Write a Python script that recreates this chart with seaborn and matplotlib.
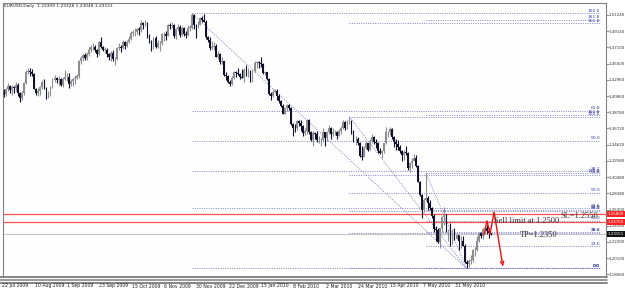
import matplotlib
matplotlib.use("Agg")
import matplotlib.pyplot as plt
import seaborn as sns
import pandas as pd
import numpy as np
from matplotlib.lines import Line2D

# ---------------- data ----------------
opens = [
    1.4130, 1.4110, 1.4170, 1.4210, 1.4160, 1.4200, 1.4190, 1.4230, 1.4120, 1.4060,
    1.4120, 1.4250, 1.4400, 1.4410, 1.4400, 1.4370, 1.4180, 1.4120, 1.4150, 1.4200,
    1.4260, 1.4190, 1.4070, 1.4130, 1.4200, 1.4290, 1.4320, 1.4290, 1.4300, 1.4230,
    1.4310, 1.4330, 1.4330, 1.4240, 1.4280, 1.4300, 1.4320, 1.4340, 1.4530, 1.4570,
    1.4610, 1.4570, 1.4630, 1.4680, 1.4710, 1.4720, 1.4680, 1.4620, 1.4780, 1.4720,
    1.4680, 1.4680, 1.4620, 1.4580, 1.4640, 1.4560, 1.4560, 1.4700, 1.4720, 1.4700,
    1.4780, 1.4730, 1.4780, 1.4820, 1.4890, 1.4900, 1.4900, 1.4940, 1.4930, 1.5020,
    1.5000, 1.5010, 1.4850, 1.4780, 1.4710, 1.4830, 1.4720, 1.4760, 1.4760, 1.4880,
    1.4880, 1.4860, 1.5000, 1.4980, 1.5000, 1.4850, 1.4940, 1.4970, 1.4870, 1.4960,
    1.4880, 1.4870, 1.4960, 1.4960, 1.5120, 1.5000, 1.4990, 1.5000, 1.5080, 1.5060,
    1.5040, 1.4840, 1.4810, 1.4700, 1.4720, 1.4730, 1.4590, 1.4620, 1.4520, 1.4530,
    1.4350, 1.4340, 1.4260, 1.4240, 1.4320, 1.4390, 1.4380, 1.4370, 1.4330, 1.4320,
    1.4420, 1.4370, 1.4410, 1.4310, 1.4410, 1.4510, 1.4520, 1.4510, 1.4500, 1.4380,
    1.4390, 1.4310, 1.4110, 1.4090, 1.4140, 1.4150, 1.4080, 1.4020, 1.3960, 1.3860,
    1.3930, 1.3970, 1.3930, 1.3730, 1.3680, 1.3670, 1.3760, 1.3740, 1.3700, 1.3610,
    1.3640, 1.3780, 1.3620, 1.3520, 1.3610, 1.3600, 1.3520, 1.3520, 1.3520, 1.3620,
    1.3550, 1.3620, 1.3680, 1.3600, 1.3620, 1.3630, 1.3580, 1.3640, 1.3680, 1.3750,
    1.3670, 1.3760, 1.3770, 1.3610, 1.3530, 1.3530, 1.3490, 1.3320, 1.3310, 1.3420,
    1.3480, 1.3400, 1.3510, 1.3560, 1.3500, 1.3490, 1.3380, 1.3360, 1.3380, 1.3480,
    1.3620, 1.3630, 1.3660, 1.3560, 1.3500, 1.3470, 1.3430, 1.3380, 1.3330, 1.3370,
    1.3350, 1.3160, 1.3230, 1.3260, 1.3290, 1.3190, 1.2990, 1.2820, 1.2620, 1.2750,
    1.2780, 1.2710, 1.2650, 1.2550, 1.2380, 1.2370, 1.2210, 1.2390, 1.2530, 1.2570,
    1.2360, 1.2370, 1.2200, 1.2370, 1.2260, 1.2300, 1.2230, 1.2230, 1.2170, 1.1960,
    1.1930, 1.1970, 1.1990, 1.2110, 1.2110, 1.2230, 1.2330, 1.2290, 1.2380, 1.2390,
    1.2360, 1.23309,
]
highs = [
    1.4170, 1.4190, 1.4250, 1.4230, 1.4230, 1.4220, 1.4260, 1.4250, 1.4140, 1.4150,
    1.4260, 1.4420, 1.4440, 1.4450, 1.4430, 1.4380, 1.4190, 1.4190, 1.4220, 1.4290,
    1.4300, 1.4200, 1.4150, 1.4220, 1.4320, 1.4350, 1.4330, 1.4340, 1.4320, 1.4330,
    1.4420, 1.4380, 1.4380, 1.4310, 1.4320, 1.4350, 1.4370, 1.4550, 1.4600, 1.4630,
    1.4640, 1.4650, 1.4710, 1.4740, 1.4760, 1.4740, 1.4690, 1.4790, 1.4840, 1.4730,
    1.4720, 1.4700, 1.4640, 1.4660, 1.4680, 1.4590, 1.4720, 1.4770, 1.4740, 1.4800,
    1.4790, 1.4800, 1.4850, 1.4920, 1.4930, 1.4960, 1.4960, 1.4970, 1.5060, 1.5030,
    1.5060, 1.5040, 1.4880, 1.4810, 1.4840, 1.4850, 1.4800, 1.4790, 1.4890, 1.4910,
    1.4920, 1.5010, 1.5020, 1.5030, 1.5010, 1.4960, 1.5010, 1.4990, 1.4980, 1.4970,
    1.4920, 1.5000, 1.4990, 1.5145, 1.5140, 1.5010, 1.5050, 1.5100, 1.5110, 1.5140,
    1.5060, 1.4850, 1.4840, 1.4790, 1.4780, 1.4750, 1.4660, 1.4640, 1.4580, 1.4540,
    1.4390, 1.4360, 1.4290, 1.4340, 1.4410, 1.4410, 1.4450, 1.4380, 1.4430, 1.4450,
    1.4480, 1.4440, 1.4420, 1.4420, 1.4530, 1.4540, 1.4540, 1.4580, 1.4510, 1.4410,
    1.4400, 1.4320, 1.4140, 1.4170, 1.4180, 1.4170, 1.4110, 1.4040, 1.3990, 1.3940,
    1.3990, 1.3990, 1.3940, 1.3740, 1.3730, 1.3780, 1.3780, 1.3780, 1.3720, 1.3670,
    1.3790, 1.3790, 1.3640, 1.3640, 1.3620, 1.3640, 1.3570, 1.3550, 1.3670, 1.3630,
    1.3640, 1.3710, 1.3690, 1.3670, 1.3650, 1.3640, 1.3660, 1.3700, 1.3780, 1.3760,
    1.3780, 1.3820, 1.3780, 1.3650, 1.3570, 1.3560, 1.3500, 1.3440, 1.3440, 1.3510,
    1.3490, 1.3540, 1.3600, 1.3570, 1.3540, 1.3500, 1.3420, 1.3400, 1.3490, 1.3690,
    1.3640, 1.3690, 1.3680, 1.3580, 1.3530, 1.3520, 1.3460, 1.3400, 1.3390, 1.3440,
    1.3370, 1.3240, 1.3290, 1.3340, 1.3330, 1.3200, 1.3000, 1.2830, 1.2780, 1.3094,
    1.2800, 1.2760, 1.2670, 1.2570, 1.2420, 1.2400, 1.2400, 1.2550, 1.2670, 1.2580,
    1.2380, 1.2460, 1.2380, 1.2390, 1.2330, 1.2310, 1.2290, 1.2290, 1.2190, 1.1990,
    1.2000, 1.2050, 1.2130, 1.2150, 1.2290, 1.2340, 1.2340, 1.2390, 1.2410, 1.2440,
    1.2390, 1.23328,
]
lows = [
    1.4070, 1.4090, 1.4150, 1.4120, 1.4100, 1.4120, 1.4150, 1.4080, 1.4010, 1.4030,
    1.4100, 1.4240, 1.4370, 1.4340, 1.4340, 1.4170, 1.4100, 1.4080, 1.4100, 1.4180,
    1.4170, 1.4050, 1.4060, 1.4080, 1.4190, 1.4260, 1.4250, 1.4220, 1.4220, 1.4200,
    1.4290, 1.4280, 1.4190, 1.4210, 1.4220, 1.4240, 1.4300, 1.4320, 1.4500, 1.4540,
    1.4550, 1.4550, 1.4600, 1.4650, 1.4680, 1.4650, 1.4590, 1.4610, 1.4700, 1.4660,
    1.4640, 1.4590, 1.4550, 1.4540, 1.4530, 1.4480, 1.4550, 1.4680, 1.4650, 1.4690,
    1.4690, 1.4710, 1.4770, 1.4810, 1.4860, 1.4850, 1.4880, 1.4870, 1.4910, 1.4950,
    1.4980, 1.4830, 1.4760, 1.4660, 1.4690, 1.4700, 1.4700, 1.4660, 1.4740, 1.4790,
    1.4810, 1.4850, 1.4940, 1.4960, 1.4830, 1.4820, 1.4920, 1.4840, 1.4860, 1.4850,
    1.4830, 1.4860, 1.4920, 1.4950, 1.4950, 1.4830, 1.4960, 1.4990, 1.5040, 1.5030,
    1.4820, 1.4780, 1.4680, 1.4690, 1.4680, 1.4580, 1.4560, 1.4500, 1.4490, 1.4340,
    1.4290, 1.4250, 1.4220, 1.4230, 1.4310, 1.4330, 1.4350, 1.4300, 1.4320, 1.4260,
    1.4340, 1.4330, 1.4260, 1.4260, 1.4400, 1.4450, 1.4440, 1.4460, 1.4370, 1.4360,
    1.4290, 1.4100, 1.4030, 1.4070, 1.4120, 1.4030, 1.4000, 1.3940, 1.3850, 1.3850,
    1.3900, 1.3910, 1.3710, 1.3580, 1.3620, 1.3650, 1.3700, 1.3640, 1.3580, 1.3590,
    1.3600, 1.3600, 1.3510, 1.3440, 1.3540, 1.3500, 1.3480, 1.3440, 1.3500, 1.3440,
    1.3510, 1.3600, 1.3540, 1.3570, 1.3590, 1.3540, 1.3570, 1.3600, 1.3660, 1.3650,
    1.3660, 1.3730, 1.3600, 1.3500, 1.3460, 1.3460, 1.3310, 1.3270, 1.3300, 1.3410,
    1.3380, 1.3390, 1.3490, 1.3470, 1.3420, 1.3360, 1.3340, 1.3290, 1.3360, 1.3470,
    1.3560, 1.3590, 1.3530, 1.3430, 1.3400, 1.3400, 1.3360, 1.3250, 1.3270, 1.3330,
    1.3140, 1.3110, 1.3170, 1.3250, 1.3180, 1.2980, 1.2800, 1.2520, 1.2600, 1.2740,
    1.2620, 1.2620, 1.2520, 1.2350, 1.2230, 1.2200, 1.2140, 1.2350, 1.2430, 1.2340,
    1.2230, 1.2160, 1.2190, 1.2240, 1.2250, 1.2110, 1.2140, 1.2160, 1.1950, 1.1877,
    1.1890, 1.1940, 1.1960, 1.2040, 1.2100, 1.2210, 1.2270, 1.2250, 1.2330, 1.2320,
    1.2270, 1.23048,
]
closes = [
    1.4110, 1.4170, 1.4210, 1.4160, 1.4200, 1.4190, 1.4230, 1.4120, 1.4060, 1.4120,
    1.4250, 1.4400, 1.4410, 1.4400, 1.4370, 1.4180, 1.4120, 1.4150, 1.4200, 1.4260,
    1.4190, 1.4070, 1.4130, 1.4200, 1.4290, 1.4320, 1.4290, 1.4300, 1.4230, 1.4310,
    1.4330, 1.4330, 1.4240, 1.4280, 1.4300, 1.4320, 1.4340, 1.4530, 1.4570, 1.4610,
    1.4570, 1.4630, 1.4680, 1.4710, 1.4720, 1.4680, 1.4620, 1.4780, 1.4720, 1.4680,
    1.4680, 1.4620, 1.4580, 1.4640, 1.4560, 1.4560, 1.4700, 1.4720, 1.4700, 1.4780,
    1.4730, 1.4780, 1.4820, 1.4890, 1.4900, 1.4900, 1.4940, 1.4930, 1.5020, 1.5000,
    1.5010, 1.4850, 1.4780, 1.4710, 1.4830, 1.4720, 1.4760, 1.4760, 1.4880, 1.4880,
    1.4860, 1.5000, 1.4980, 1.5000, 1.4850, 1.4940, 1.4970, 1.4870, 1.4960, 1.4880,
    1.4870, 1.4960, 1.4960, 1.5120, 1.5000, 1.4990, 1.5000, 1.5080, 1.5060, 1.5040,
    1.4840, 1.4810, 1.4700, 1.4720, 1.4730, 1.4590, 1.4620, 1.4520, 1.4530, 1.4350,
    1.4340, 1.4260, 1.4240, 1.4320, 1.4390, 1.4380, 1.4370, 1.4330, 1.4320, 1.4420,
    1.4370, 1.4410, 1.4310, 1.4410, 1.4510, 1.4520, 1.4510, 1.4500, 1.4380, 1.4390,
    1.4310, 1.4110, 1.4090, 1.4140, 1.4150, 1.4080, 1.4020, 1.3960, 1.3860, 1.3930,
    1.3970, 1.3930, 1.3730, 1.3680, 1.3670, 1.3760, 1.3740, 1.3700, 1.3610, 1.3640,
    1.3780, 1.3620, 1.3520, 1.3610, 1.3600, 1.3520, 1.3520, 1.3520, 1.3620, 1.3550,
    1.3620, 1.3680, 1.3600, 1.3620, 1.3630, 1.3580, 1.3640, 1.3680, 1.3750, 1.3670,
    1.3760, 1.3770, 1.3610, 1.3530, 1.3530, 1.3490, 1.3320, 1.3310, 1.3420, 1.3480,
    1.3400, 1.3510, 1.3560, 1.3500, 1.3490, 1.3380, 1.3360, 1.3380, 1.3480, 1.3620,
    1.3630, 1.3660, 1.3560, 1.3500, 1.3470, 1.3430, 1.3380, 1.3330, 1.3370, 1.3350,
    1.3160, 1.3230, 1.3260, 1.3290, 1.3190, 1.2990, 1.2820, 1.2620, 1.2750, 1.2780,
    1.2710, 1.2650, 1.2550, 1.2380, 1.2370, 1.2210, 1.2390, 1.2530, 1.2570, 1.2360,
    1.2370, 1.2200, 1.2370, 1.2260, 1.2300, 1.2230, 1.2230, 1.2170, 1.1960, 1.1930,
    1.1970, 1.1990, 1.2110, 1.2110, 1.2230, 1.2330, 1.2290, 1.2380, 1.2390, 1.2360,
    1.2331, 1.23151,
]

date_labels = ["22 Jul 2009", "10 Aug 2009", "1 Sep 2009", "23 Sep 2009", "15 Oct 2009",
               "6 Nov 2009", "30 Nov 2009", "22 Dec 2009", "15 Jan 2010", "8 Feb 2010",
               "2 Mar 2010", "24 Mar 2010", "15 Apr 2010", "7 May 2010", "31 May 2010"]
date_label_bars = [0, 16, 32, 48, 64, 80, 96, 112, 128, 144, 160, 176, 192, 208, 224]

price_ticks = [1.51240, 1.49140, 1.47100, 1.45000, 1.42960, 1.40860, 1.38780, 1.36720,
               1.34620, 1.32580, 1.30480, 1.28380, 1.26300, 1.24260, 1.22200, 1.20100, 1.18060]

# Fibonacci retracements (anchor bar, anchor high, levels)
fib_start_bar = [93, 171, 209]
fib_high = [1.5145, 1.3820, 1.3094]
fib_low_bar = 229
fib_low = 1.1877
fib_levels = [[0.0, 23.6, 38.2, 50.0, 61.8, 100.0],
              [0.0, 23.6, 38.2, 50.0, 61.8, 100.0, 161.8],
              [0.0, 23.6, 38.2, 50.0, 61.8, 100.0, 161.8, 261.8]]

last_price = 1.23151
sl_price = 1.2578
limit_price = 1.2475

zig_x = [237.6, 239.1, 240.6, 242.6, 246.6]
zig_y = [1.2306, 1.2485, 1.2318, 1.2600, 1.1960]
arrow_tip = (247.0, 1.1905)

# ---------------- figure ----------------
sns.set_theme(style="white")
plt.rcParams['font.family'] = ['DejaVu Sans']

W, H = 625, 292
fig = plt.figure(figsize=(W / 100, H / 100), dpi=100, facecolor='white')
ax = fig.add_axes([3 / W, (H - 276) / H, 603 / W, 273 / H])
ax.set_facecolor('#fefefe')

n = len(closes)
df = pd.DataFrame({'bar': np.arange(n), 'open': opens, 'high': highs,
                   'low': lows, 'close': closes})
df['bull'] = df['close'] >= df['open']
bull_c, bear_c = '#8e8e8e', '#10102a'
cols = np.where(df['bull'], bull_c, bear_c)
ax.vlines(df['bar'], df['low'], df['high'], colors=cols, lw=0.8, zorder=3)
body_bot = df[['open', 'close']].min(axis=1)
body_h = (df['open'] - df['close']).abs().clip(lower=0.0005)
ax.bar(df['bar'], body_h, bottom=body_bot, width=0.9, color=cols, linewidth=0, zorder=3)

XR = 295
fib_line_c = '#7474c8'
fib_lab_c = '#3c3ca0'
dot = (0, (1.2, 1.6))
for s, hi, levels in zip(fib_start_bar, fib_high, fib_levels):
    ax.plot([s, fib_low_bar], [hi, fib_low], color=fib_line_c, lw=0.6, ls=dot, zorder=2)
    for lv in levels:
        p = fib_low + (hi - fib_low) * lv / 100.0
        ax.hlines(p, s, XR, color=fib_line_c, lw=0.6, linestyles=dot, zorder=2)
        ax.text(XR, p + 0.0006, f"{lv:.1f}", fontsize=3.2, color=fib_lab_c,
                ha='right', va='bottom', zorder=4)

ax.axhline(last_price, color='#c4c4c4', lw=0.8, zorder=1)
ax.axhline(sl_price, color='#ff5050', lw=0.9, zorder=2)
ax.axhline(limit_price, color='#ff5050', lw=0.9, zorder=2)

sns.lineplot(x=zig_x, y=zig_y, sort=False, color='#ee1111', lw=1.0, ax=ax, zorder=5)
ax.annotate('', xy=arrow_tip, xytext=(zig_x[-1], zig_y[-1]),
            arrowprops=dict(arrowstyle='->', color='#ee1111', lw=1.0, mutation_scale=6),
            zorder=5)

serif = ['Liberation Serif', 'DejaVu Serif']
ax.text(242.5, 1.2482, "Sell limit at 1.2500", fontsize=6.0, family=serif,
        color='#333333', ha='left', va='center', zorder=6)
ax.text(275.5, 1.2552, "SL=1.2550", fontsize=6.0, family=serif,
        color='#333333', ha='left', va='center', zorder=6)
ax.text(255.4, 1.2303, "TP=1.2350", fontsize=6.0, family=serif,
        color='#333333', ha='left', va='center', zorder=6)

ax.set_xlim(-0.5, 298)
ax.set_ylim(1.17804, 1.52777)
ax.set_xticks([])
ax.yaxis.tick_right()
ax.set_yticks(price_ticks)
ax.set_yticklabels([f"{p:.5f}" for p in price_ticks])
ax.tick_params(axis='y', which='both', right=True, length=1.8, width=0.5, pad=0.4,
               labelsize=2.9, labelcolor='#303030', color='#606060')
ax.grid(False)
for sp in ax.spines.values():
    sp.set_color('#808080')
    sp.set_linewidth(0.8)
ax.spines['bottom'].set_visible(False)

boxes = [(sl_price, "1.25800", '#ff2020', 'white'),
         (limit_price, "1.24750", '#ff2020', 'white'),
         (last_price, "1.23151", '#111111', 'white')]
for p, t, fc, tc in boxes:
    ax.text(1.003, p, t, transform=ax.get_yaxis_transform(), fontsize=2.9, color=tc,
            ha='left', va='center', zorder=7,
            bbox=dict(boxstyle='square,pad=0.2', fc=fc, ec='none'))

# header
fig.text(4 / W, 1 - 6.5 / H, "EURUSD,Daily  1.23309 1.23328 1.23048 1.23151",
         fontsize=3.2, color='#202020', ha='left', va='center')

# bottom separators
for yp, lw in [(277.2, 1.3), (280.2, 1.1), (282.8, 1.3)]:
    fig.add_artist(Line2D([0, 607 / W], [1 - yp / H, 1 - yp / H], color='#7c7c7c', lw=lw))

# date labels
for b, lab in zip(date_label_bars, date_labels):
    xp = 4 + 2.02 * b
    fig.text((xp - 1.5) / W, 1 - 286 / H, lab, fontsize=3.3, color='#202020',
             ha='left', va='center')

fig.savefig("out.png", dpi=100, facecolor='white')
